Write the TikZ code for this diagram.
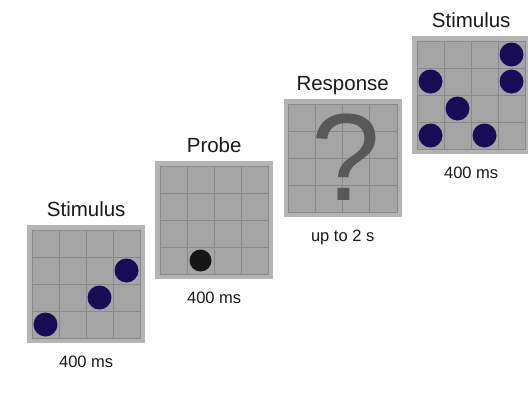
\documentclass[tikz,border=0pt]{standalone}
\usepackage{fontspec}
\setmainfont{Liberation Sans}
\usetikzlibrary{calc}
\definecolor{frameg}{RGB}{180,180,180}
\definecolor{cellg}{RGB}{165,165,165}
\definecolor{lineg}{RGB}{136,136,136}
\definecolor{navydot}{RGB}{24,12,86}
\definecolor{blackdot}{RGB}{22,22,22}
\definecolor{qgray}{RGB}{88,88,88}
\definecolor{txt}{RGB}{25,25,25}
\tikzset{
  panelbox/.style={fill=frameg, draw=none, minimum width=118pt, minimum height=118pt, inner sep=0pt, anchor=north west},
  griddraw/.style={draw=lineg, line width=0.7pt},
  dotnode/.style={circle, minimum size=24pt, inner sep=0pt, draw=none},
  titletext/.style={text=txt, font=\fontsize{20.5}{24}\selectfont, anchor=base, inner sep=0pt},
  labtext/.style={text=txt, font=\fontsize{16.5}{20}\selectfont, anchor=base, inner sep=0pt},
}
\newcommand\mkpanel[3]{%
  \node[panelbox] (#1) at (#2,#3) {};
  \fill[cellg] ($(#1.north west)+(5,5)$) rectangle ($(#1.south east)+(-5,-5)$);
  \foreach \k in {1,2,3} {
    \draw[griddraw] ($(#1.north west)+(5+27*\k,5)$) -- ($(#1.north west)+(5+27*\k,113)$);
    \draw[griddraw] ($(#1.north west)+(5,5+27*\k)$) -- ($(#1.north west)+(113,5+27*\k)$);
  }
  \draw[griddraw] ($(#1.north west)+(5,5)$) rectangle ($(#1.south east)+(-5,-5)$);
}
\newcommand\mkdot[5]{%
  \node[dotnode, fill=#5] (#1) at ($(#2.north west)+(18.5+27*#3,18.5+27*#4)$) {};
}
\begin{document}
\begin{tikzpicture}[x=1pt,y=-1pt]
\useasboundingbox (0,0) rectangle (528,392);
\fill[white] (0,0) rectangle (528,392);

% panel 1: Stimulus
\mkpanel{p1}{27}{225}
\mkdot{d11}{p1}{0}{3}{navydot}
\mkdot{d12}{p1}{2}{2}{navydot}
\mkdot{d13}{p1}{3}{1}{navydot}
\node[titletext] (t1) at ($(p1.north)+(0,-9)$) {Stimulus};
\node[labtext] (l1) at ($(p1.south)+(0,24)$) {400 ms};

% panel 2: Probe
\mkpanel{p2}{155}{161}
\node[dotnode, fill=blackdot, minimum size=22pt] (d21) at ($(p2.north west)+(18.5+27,18.5+81)$) {};
\node[titletext] (t2) at ($(p2.north)+(0,-9)$) {Probe};
\node[labtext] (l2) at ($(p2.south)+(0,24)$) {400 ms};

% panel 3: Response
\mkpanel{p3}{283.5}{99}
\node[text=qgray, font=\fontsize{124}{124}\selectfont, inner sep=0pt] (q) at ($(p3.center)+(3,-1)$) {?};
\node[titletext] (t3) at ($(p3.north)+(0,-9)$) {Response};
\node[labtext] (l3) at ($(p3.south)+(0,24)$) {up to 2 s};

% panel 4: Stimulus
\mkpanel{p4}{412}{36}
\mkdot{d41}{p4}{3}{0}{navydot}
\mkdot{d42}{p4}{0}{1}{navydot}
\mkdot{d43}{p4}{3}{1}{navydot}
\mkdot{d44}{p4}{1}{2}{navydot}
\mkdot{d45}{p4}{0}{3}{navydot}
\mkdot{d46}{p4}{2}{3}{navydot}
\node[titletext] (t4) at ($(p4.north)+(0,-9)$) {Stimulus};
\node[labtext] (l4) at ($(p4.south)+(0,24)$) {400 ms};
\end{tikzpicture}
\end{document}
